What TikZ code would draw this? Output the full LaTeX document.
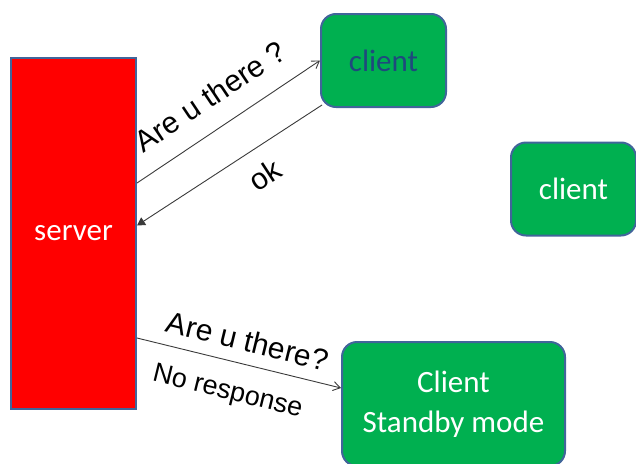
\documentclass[tikz,border=0pt]{standalone}
\usepackage{fontspec}
\usepackage{tikz}
\usetikzlibrary{arrows.meta,positioning,calc}
\newfontfamily\calibri{Carlito}
\newfontfamily\arial{Liberation Sans}
\definecolor{serverRed}{HTML}{FF0000}
\definecolor{clientGreen}{HTML}{00B050}
\definecolor{edgeBlue}{HTML}{41659A}
\definecolor{clientText}{HTML}{1F497D}
\definecolor{lineGray}{HTML}{3A3A3A}
\tikzset{
  box/.style={draw=edgeBlue, line width=2pt, align=center, inner sep=0pt, font=\calibri\fontsize{31}{40}\selectfont, text=white},
  serverbox/.style={box, fill=serverRed, minimum width=125pt, minimum height=351pt},
  clientbox/.style={box, fill=clientGreen, rounded corners=15pt, minimum width=125pt, minimum height=93pt},
  msg/.style={-{Straight Barb[length=7pt,width=9pt]}, line width=0.9pt, draw=lineGray},
  reply/.style={-{Triangle[length=8pt,width=9pt]}, line width=0.9pt, draw=lineGray},
  lbl/.style={font=\arial\fontsize{30}{34}\selectfont, sloped, inner sep=1pt}
}
\begin{document}
\begin{tikzpicture}[x=1pt,y=-1pt]
  \useasboundingbox (0,0) rectangle (636,463);
  \clip (0,0) rectangle (636,463);
  \node[serverbox] (server) at (73.5,233.5) {server};
  \node[clientbox, text=clientText] (client) at (383.5,60.5) {client};
  \node[clientbox] (idle) at (573.5,189) {client};
  \node[clientbox, minimum width=223pt, minimum height=124pt] (standby) at (453.5,404) {Client\\Standby mode};
  % polling the clients
  \draw[msg] ([yshift=50.5pt]server.east) -- (client.west)
    node[lbl, above=19pt, pos=0.495] {Are u there ?};
  \draw[reply] ([shift={(2pt,3pt)}]client.south west) -- ([yshift=8pt]server.east)
    node[lbl, below=15pt, pos=0.39] {ok};
  \draw[msg] ([yshift=-104.5pt]server.east) -- ([yshift=16pt]standby.west)
    node[lbl, above=11pt, pos=0.515] {Are u there?}
    node[lbl, below=18pt, pos=0.48, font=\arial\fontsize{27}{30}\selectfont] {No response};
\end{tikzpicture}
\end{document}
